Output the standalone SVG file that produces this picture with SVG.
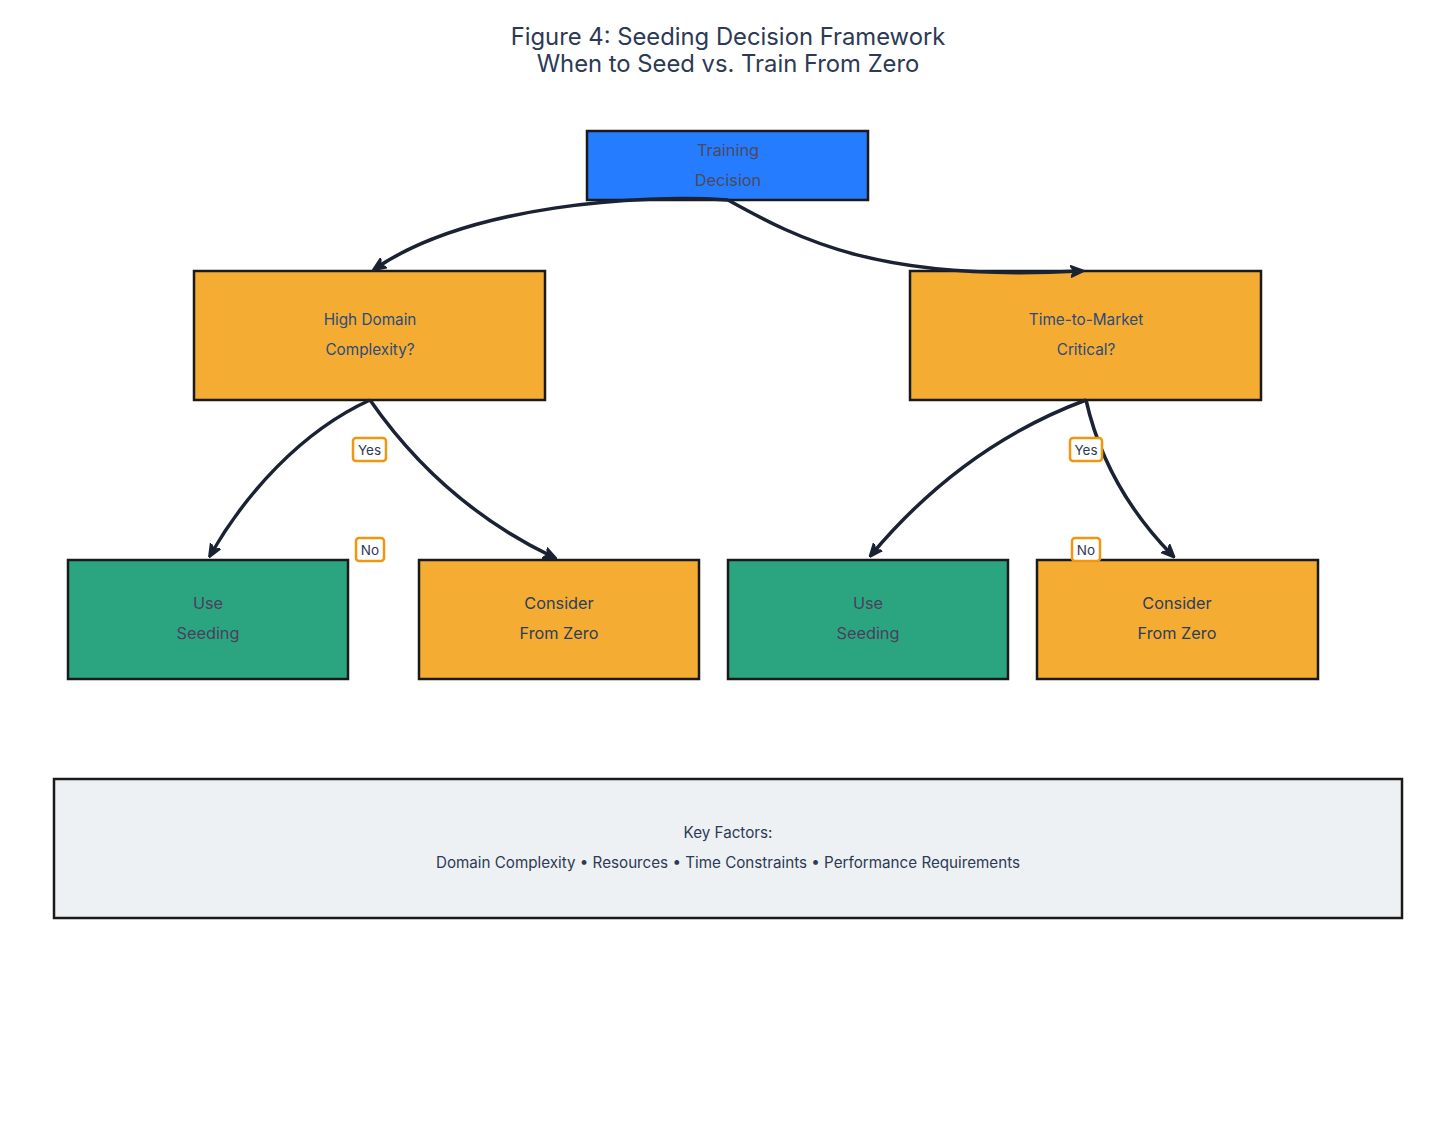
<svg xmlns="http://www.w3.org/2000/svg" width="1456" height="1124" viewBox="0 0 1456 1124">
<defs>
<style>
.t{font-family:Inter,"Liberation Sans",Arial,sans-serif;text-anchor:middle}
.title{font-size:23.8px;fill:#2d3a55}
.n{stroke:#1a1a1a;stroke-width:2.5}
.blue{fill:#267cfe}
.orange{fill:#f5ac32}
.green{fill:#2ba57f}
.grey{fill:#eef1f3}
.nt{font-size:16.3px}
.edge{fill:none;stroke:#1a2233;stroke-width:3.5;marker-end:url(#ah)}
.lb{fill:#fff;stroke:#f0960f;stroke-width:2.5}
.lt{font-size:13.5px;fill:#2d3a55}
</style>
<marker id="ah" viewBox="0 0 10 10" refX="7" refY="5" markerWidth="3.8" markerHeight="3.8" orient="auto" markerUnits="strokeWidth">
<path d="M0,0.8 L10,5 L0,9.2 L3,5 z" fill="#1a2233" stroke="#1a2233" stroke-width="1.5" stroke-linejoin="round"/>
</marker>
</defs>
<rect width="1456" height="1124" fill="#fff"/>
<text class="t title" x="728" y="45">Figure 4: Seeding Decision Framework</text>
<text class="t title" x="728" y="72">When to Seed vs. Train From Zero</text>

<g id="training-decision">
<rect class="n blue" x="587" y="131" width="281" height="69"/>
<text class="t nt" x="728" y="156" fill="#4a4a5a">Training</text>
<text class="t nt" x="728" y="186" fill="#4a4a5a">Decision</text>
</g>
<g id="high-domain">
<rect class="n orange" x="194" y="271" width="351" height="129"/>
<text class="t nt" x="370" y="325" fill="#2e4a7a" style="font-size:15.3px">High Domain</text>
<text class="t nt" x="370" y="355" fill="#2e4a7a" style="font-size:15.3px">Complexity?</text>
</g>
<g id="time-to-market">
<rect class="n orange" x="910" y="271" width="351" height="129"/>
<text class="t nt" x="1086" y="325" fill="#2e4a7a" style="font-size:15.3px">Time-to-Market</text>
<text class="t nt" x="1086" y="355" fill="#2e4a7a" style="font-size:15.3px">Critical?</text>
</g>
<g id="use-seeding-1">
<rect class="n green" x="68" y="560" width="280" height="119"/>
<text class="t nt" x="208" y="609" fill="#4a3f5f">Use</text>
<text class="t nt" x="208" y="639" fill="#4a3f5f">Seeding</text>
</g>
<g id="consider-zero-1">
<rect class="n orange" x="419" y="560" width="280" height="119"/>
<text class="t nt" x="559" y="609" fill="#2c3e5a">Consider</text>
<text class="t nt" x="559" y="639" fill="#2c3e5a">From Zero</text>
</g>
<g id="use-seeding-2">
<rect class="n green" x="728" y="560" width="280" height="119"/>
<text class="t nt" x="868" y="609" fill="#4a3f5f">Use</text>
<text class="t nt" x="868" y="639" fill="#4a3f5f">Seeding</text>
</g>
<g id="consider-zero-2">
<rect class="n orange" x="1037" y="560" width="281" height="119"/>
<text class="t nt" x="1177" y="609" fill="#2c3e5a">Consider</text>
<text class="t nt" x="1177" y="639" fill="#2c3e5a">From Zero</text>
</g>
<g id="key-factors">
<rect class="n grey" x="54" y="779" width="1348" height="139"/>
<text class="t" x="728" y="838" style="font-size:15.2px" fill="#2d3a55">Key Factors:</text>
<text class="t" x="728" y="868" style="font-size:15.2px" fill="#2d3a55">Domain Complexity • Resources • Time Constraints • Performance Requirements</text>
</g>

<g id="connectors">
<path class="edge" d="M728,200 C 640,194 470,205 376,268"/>
<path class="edge" d="M728,200 C 800,240 880,282 1080,271"/>
<path class="edge" d="M370,400 C 300,432 245,495 211,554"/>
<path class="edge" d="M370,400 C 420,472 480,522 553,557"/>
<path class="edge" d="M1086,400 C 1000,432 930,485 872,554"/>
<path class="edge" d="M1086,400 C 1100,462 1130,512 1172,555"/>
<g id="lbl-yes-1"><rect class="lb" x="353" y="438" width="33" height="23" rx="3"/><text class="t lt" x="369.5" y="454.5">Yes</text></g>
<g id="lbl-no-1"><rect class="lb" x="356" y="538" width="28" height="23" rx="3"/><text class="t lt" x="370" y="554.5">No</text></g>
<g id="lbl-yes-2"><rect class="lb" x="1070" y="438" width="32" height="23" rx="3"/><text class="t lt" x="1086" y="454.5">Yes</text></g>
<g id="lbl-no-2"><rect class="lb" x="1072" y="538" width="28" height="23" rx="3"/><text class="t lt" x="1086" y="554.5">No</text></g>
</g>
</svg>
